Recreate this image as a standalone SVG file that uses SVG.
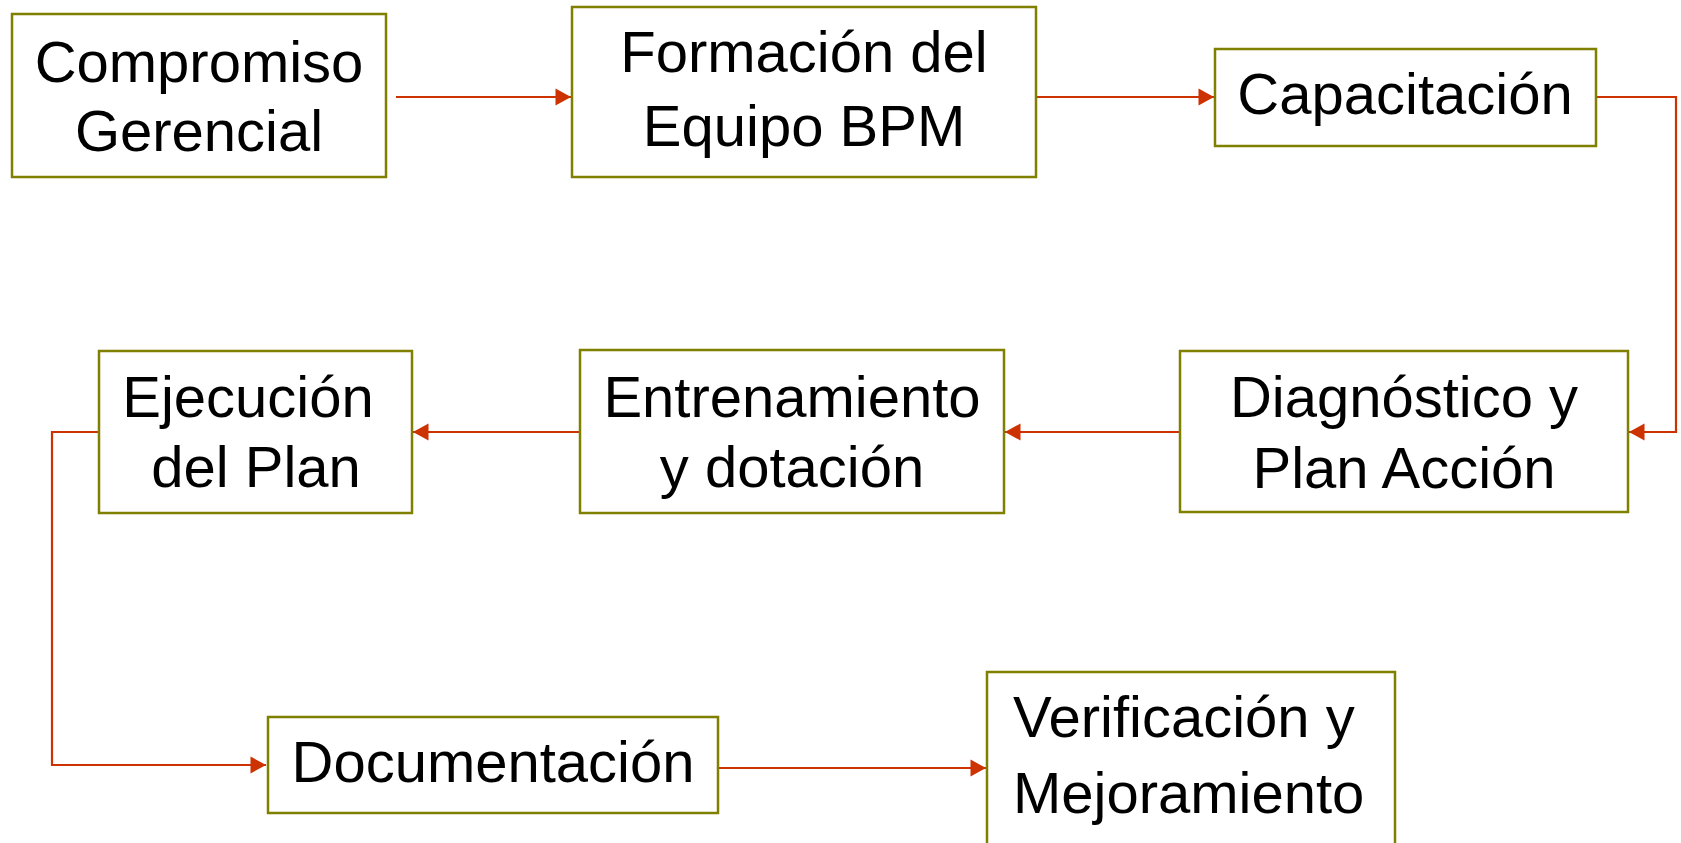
<svg xmlns="http://www.w3.org/2000/svg" width="1681" height="843" viewBox="0 0 1681 843">
<style>
.box{fill:#ffffff;stroke:#808000;stroke-width:2.5}
.lbl{font-family:"Liberation Sans",Arial,sans-serif;font-size:58px;fill:#000000;text-anchor:middle}
.con{fill:none;stroke:#cc3300;stroke-width:2.2}
</style>
<defs>
<marker id="arr" markerUnits="userSpaceOnUse" markerWidth="18" markerHeight="18" viewBox="0 0 18 18" refX="16" refY="9" orient="auto">
<path d="M0.5,0.5 L16,9 L0.5,17.5 Z" fill="#cc3300"/>
</marker>
</defs>
<rect width="1681" height="843" fill="#ffffff"/>
<g id="connectors">
<path class="con" d="M396,97 L571,97" marker-end="url(#arr)"/>
<path class="con" d="M1036,97 L1214,97" marker-end="url(#arr)"/>
<path class="con" d="M1596,97 L1676,97 L1676,432 L1629,432" marker-end="url(#arr)"/>
<path class="con" d="M1180,432 L1005,432" marker-end="url(#arr)"/>
<path class="con" d="M588,432 L413,432" marker-end="url(#arr)"/>
<path class="con" d="M99,432 L52,432 L52,765 L266,765" marker-end="url(#arr)"/>
<path class="con" d="M718,768 L986,768" marker-end="url(#arr)"/>
</g>
<g id="n1">
<rect class="box" x="12" y="14" width="374" height="163"/>
<text class="lbl" x="199" y="82">Compromiso</text>
<text class="lbl" x="199" y="151">Gerencial</text>
</g>
<g id="n2">
<rect class="box" x="572" y="7" width="464" height="170"/>
<text class="lbl" x="804" y="72">Formación del</text>
<text class="lbl" x="804" y="146">Equipo BPM</text>
</g>
<g id="n3">
<rect class="box" x="1215" y="49" width="381" height="97"/>
<text class="lbl" x="1405" y="114">Capacitación</text>
</g>
<g id="n4">
<rect class="box" x="1180" y="351" width="448" height="161"/>
<text class="lbl" x="1404" y="417">Diagnóstico y</text>
<text class="lbl" x="1404" y="488">Plan Acción</text>
</g>
<g id="n5">
<rect class="box" x="580" y="350" width="424" height="163"/>
<text class="lbl" x="792" y="417">Entrenamiento</text>
<text class="lbl" x="792" y="487">y dotación</text>
</g>
<g id="n6">
<rect class="box" x="99" y="351" width="313" height="162"/>
<text class="lbl" x="248" y="417">Ejecución</text>
<text class="lbl" x="256" y="487">del Plan</text>
</g>
<g id="n7">
<rect class="box" x="268" y="717" width="450" height="96"/>
<text class="lbl" x="493" y="782">Documentación</text>
</g>
<g id="n8">
<rect class="box" x="987" y="672" width="408" height="200"/>
<text class="lbl" x="1013" y="737" style="text-anchor:start">Verificación y</text>
<text class="lbl" x="1013" y="813" style="text-anchor:start">Mejoramiento</text>
</g>
</svg>
